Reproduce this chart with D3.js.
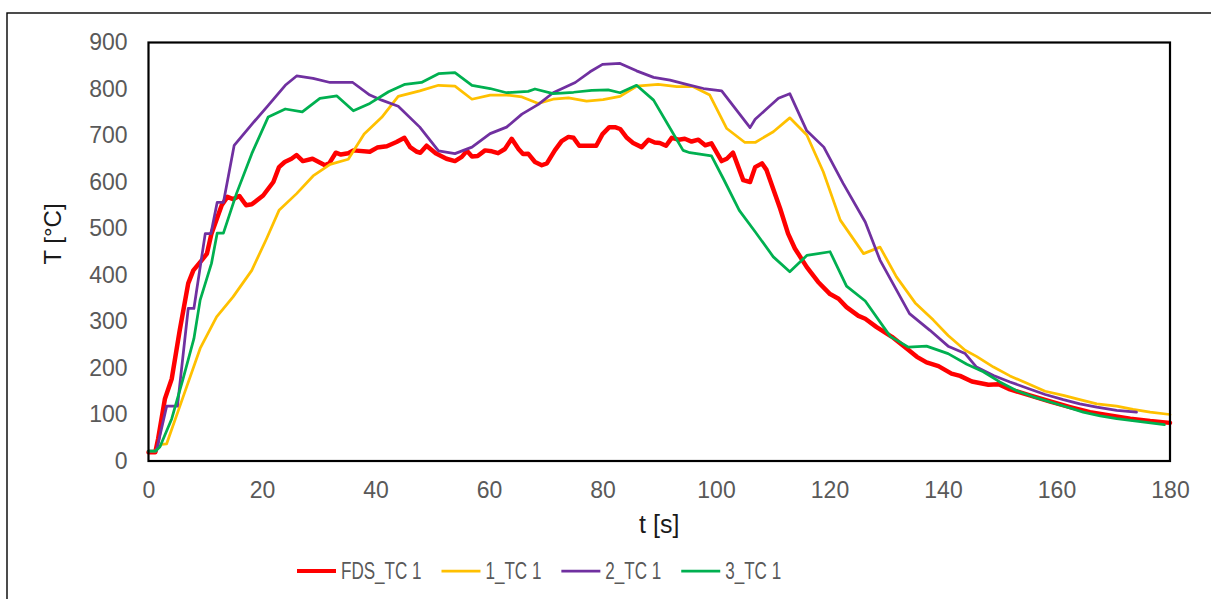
<!DOCTYPE html>
<html>
<head>
<meta charset="utf-8">
<script src="https://cdn.jsdelivr.net/npm/d3@7"></script>
<style>
  html, body { margin: 0; padding: 0; background: #fff; overflow: hidden; }
  svg { display: block; font-family: "Liberation Sans", Arial, sans-serif; }
</style>
</head>
<body>
<script>
// thermocouple TC 1: FDS model vs. three test runs
const fdsTime = [0, 1.2, 1.7, 2.9, 4.1, 5.5, 7.0, 7.9, 9.4, 10.3, 11.1, 12.9, 13.9, 14.9, 16.0, 17.2, 18.2, 20.2, 22.0, 23.0, 24.0, 25.2, 26.1, 27.2, 28.9, 31.1, 31.9, 33.0, 33.9, 35.2, 36.1, 39.0, 40.3, 42.0, 43.7, 45.1, 46.1, 47.3, 47.9, 49.0, 50.6, 52.5, 54.0, 55.2, 56.1, 57.0, 58.0, 59.3, 60.5, 61.6, 62.8, 64.0, 65.2, 66.0, 66.9, 68.1, 69.3, 70.2, 71.6, 72.8, 74.0, 74.9, 75.9, 77.2, 78.9, 80.0, 81.2, 82.2, 83.1, 84.3, 85.4, 86.9, 88.1, 89.2, 90.1, 91.2, 92.2, 93.4, 94.5, 95.7, 96.9, 98.1, 99.2, 101.0, 101.9, 103.0, 104.8, 106.0, 106.9, 108.1, 108.9, 111.3, 112.7, 113.9, 116.0, 118.0, 120.1, 121.6, 123.0, 125.1, 126.3, 128.3, 131.0, 133.6, 135.4, 137.1, 139.2, 141.5, 143.0, 145.1, 148.0, 149.8, 151.8, 155.3, 158.9, 162.4, 165.9, 169.4, 173.0, 176.5, 180];
const fdsTemp = [19, 19, 48, 134, 177, 281, 382, 410, 432, 446, 489, 550, 568, 563, 570, 550, 552, 571, 600, 632, 643, 650, 658, 645, 650, 636, 641, 663, 659, 662, 668, 665, 674, 677, 686, 695, 675, 665, 663, 678, 662, 650, 645, 654, 667, 655, 656, 668, 666, 662, 671, 693, 671, 660, 661, 643, 636, 640, 668, 688, 697, 695, 678, 678, 678, 703, 718, 718, 714, 695, 684, 675, 691, 685, 684, 678, 695, 691, 693, 687, 691, 679, 683, 645, 650, 663, 604, 600, 632, 640, 626, 543, 489, 457, 417, 385, 359, 349, 331, 312, 306, 288, 267, 242, 224, 212, 204, 188, 183, 171, 164, 165, 154, 141, 128, 116, 105, 98, 91, 86, 82];

const run1Time = [0, 1.2, 2.3, 3.2, 6.1, 9.1, 12.0, 14.9, 18.2, 20.8, 23.0, 26.1, 29.0, 32.0, 35.2, 38.0, 41.1, 44.0, 47.8, 51.1, 54.0, 57.0, 60.2, 63.1, 65.8, 68.7, 71.3, 74.0, 77.2, 80.1, 83.1, 86.0, 89.8, 93.1, 96.0, 98.9, 101.9, 105.1, 106.9, 110.1, 113.0, 116.0, 118.9, 121.9, 126.0, 128.9, 131.8, 135.1, 138.3, 140.9, 143.9, 145.9, 148.9, 151.8, 155.0, 158.0, 161.2, 164.1, 167.1, 170.6, 173.5, 176.5, 180];
const run1Temp = [21, 21, 36, 37, 138, 242, 310, 353, 410, 478, 539, 575, 613, 638, 649, 703, 739, 784, 796, 808, 806, 778, 787, 787, 783, 769, 778, 781, 774, 777, 784, 806, 810, 805, 805, 787, 715, 685, 685, 708, 738, 701, 622, 518, 446, 460, 396, 340, 303, 270, 238, 225, 202, 183, 166, 150, 141, 132, 123, 118, 111, 105, 100];

const run2Time = [0, 1.4, 3.2, 5.1, 7.0, 8.0, 10.0, 11.0, 12.1, 13.2, 15.1, 18.2, 21.1, 24.1, 26.1, 29.0, 32.0, 36.0, 39.0, 41.1, 44.0, 47.8, 51.1, 54.0, 57.0, 60.2, 63.1, 65.8, 68.7, 71.3, 75.2, 77.8, 80.0, 83.1, 86.0, 89.0, 91.9, 94.8, 97.8, 101.0, 106.0, 106.9, 108.9, 111.0, 113.0, 116.0, 119.0, 122.4, 126.3, 128.9, 134.1, 137.7, 140.9, 143.9, 145.9, 148.9, 151.8, 155.0, 158.0, 161.2, 164.1, 167.1, 170.6, 174.1];
const run2Temp = [21, 22, 118, 118, 328, 328, 489, 489, 556, 556, 679, 724, 765, 808, 828, 823, 814, 814, 787, 776, 763, 718, 667, 661, 675, 704, 718, 746, 767, 792, 814, 837, 853, 855, 839, 825, 819, 810, 801, 796, 717, 735, 757, 780, 790, 710, 675, 597, 514, 432, 317, 281, 247, 231, 202, 184, 170, 156, 143, 132, 123, 116, 109, 105];

const run3Time = [0, 1.2, 2.0, 4.1, 6.1, 8.0, 9.1, 11.1, 12.1, 13.2, 15.5, 18.2, 21.1, 24.1, 27.1, 30.2, 33.2, 36.1, 39.0, 42.3, 45.2, 48.1, 51.1, 54.0, 57.0, 60.2, 63.1, 66.9, 68.1, 71.3, 74.9, 78.1, 81.0, 83.1, 86.0, 89.0, 91.6, 94.2, 95.4, 99.2, 101.3, 104.1, 106.9, 110.1, 113.0, 116.0, 120.1, 123.0, 126.3, 130.7, 133.9, 137.1, 140.9, 144.2, 147.1, 150.0, 153.0, 155.9, 158.9, 161.8, 164.7, 167.7, 170.6, 174.1, 179.0];
const run3Temp = [21, 21, 30, 91, 177, 263, 346, 425, 490, 490, 575, 661, 740, 757, 751, 780, 785, 753, 769, 794, 810, 814, 833, 835, 808, 801, 792, 795, 800, 790, 793, 797, 798, 792, 808, 776, 722, 668, 663, 656, 607, 539, 493, 439, 407, 442, 450, 376, 344, 268, 245, 247, 231, 208, 192, 170, 151, 138, 127, 116, 105, 97, 91, 86, 78];

const seriesNames = ["FDS_TC 1", "1_TC 1", "2_TC 1", "3_TC 1"];
const seriesColors = ["#ff0000", "#ffc000", "#7030a0", "#00b050"];
const xTicks = [0, 20, 40, 60, 80, 100, 120, 140, 160, 180];
const yTicks = [0, 100, 200, 300, 400, 500, 600, 700, 800, 900];

const W = 1211, H = 599;
const plot = { left: 148.5, right: 1170, top: 42.5, bottom: 461 };

const series = [
  [fdsTime, fdsTemp], [run1Time, run1Temp], [run2Time, run2Temp], [run3Time, run3Temp]
].map(([t, v], i) => ({
  name: seriesNames[i],
  color: seriesColors[i],
  width: i === 0 ? 4.5 : 2.75,
  points: t.map((d, j) => [d, v[j]])
}));

const svg = d3.select("body").append("svg")
  .attr("width", W)
  .attr("height", H);

svg.append("rect").attr("width", W).attr("height", H).attr("fill", "#fff");

// chart area border (runs off the right and bottom)
svg.append("rect")
  .attr("x", 7).attr("y", 13)
  .attr("width", W + 50).attr("height", H + 50)
  .attr("fill", "none")
  .attr("stroke", "#000")
  .attr("stroke-width", 1.4);

const x = d3.scaleLinear().domain([0, 180]).range([plot.left, plot.right]);
const y = d3.scaleLinear().domain([0, 900]).range([plot.bottom, plot.top]);

// tick labels only, no tick marks
const xAxis = svg.append("g")
  .attr("transform", `translate(0,${plot.bottom})`)
  .call(d3.axisBottom(x).tickValues(xTicks).tickSize(0).tickPadding(21));
const yAxis = svg.append("g")
  .attr("transform", `translate(${plot.left},0)`)
  .call(d3.axisLeft(y).tickValues(yTicks).tickSize(0).tickPadding(21));

[xAxis, yAxis].forEach(g => {
  g.select(".domain").remove();
  g.selectAll("text")
    .attr("fill", "#595959")
    .style("font-size", "23px")
    .style("font-family", "'Liberation Sans', Arial, sans-serif");
});
xAxis.selectAll("text").attr("dy", "0.71em").attr("y", 21);

const line = d3.line()
  .x(d => x(d[0]))
  .y(d => y(d[1]));

svg.append("g")
  .selectAll("path")
  .data(series)
  .join("path")
  .attr("d", d => line(d.points))
  .attr("fill", "none")
  .attr("stroke", d => d.color)
  .attr("stroke-width", d => d.width)
  .attr("stroke-linejoin", "round")
  .attr("stroke-linecap", "round");

// plot area frame on top
svg.append("rect")
  .attr("x", plot.left).attr("y", plot.top)
  .attr("width", plot.right - plot.left)
  .attr("height", plot.bottom - plot.top)
  .attr("fill", "none")
  .attr("stroke", "#000")
  .attr("stroke-width", 2.2);

// axis titles
svg.append("text")
  .attr("x", (plot.left + plot.right) / 2)
  .attr("y", 533)
  .attr("text-anchor", "middle")
  .attr("fill", "#1a1a1a")
  .style("font-size", "25px")
  .text("t [s]");

svg.append("text")
  .attr("transform", "translate(61,234) rotate(-90)")
  .attr("text-anchor", "middle")
  .attr("fill", "#1a1a1a")
  .style("font-size", "24px")
  .text("T [°C]");

// legend, narrow lettering
const legend = svg.append("g").attr("transform", "translate(297,571)");
let cursor = 0;
series.forEach(s => {
  const item = legend.append("g").attr("transform", `translate(${cursor},0)`);
  item.append("line")
    .attr("x1", 0).attr("x2", 39)
    .attr("stroke", s.color)
    .attr("stroke-width", s.width === 2.75 ? 2.75 : 4);
  const txt = item.append("text")
    .attr("x", 44)
    .attr("dy", "0.35em")
    .attr("fill", "#595959")
    .style("font-size", "24px")
    .text(s.name);
  const natural = txt.node().getComputedTextLength();
  const squeezed = natural * 0.71;
  txt.attr("textLength", squeezed).attr("lengthAdjust", "spacingAndGlyphs");
  cursor += 44 + squeezed + 20;
});
</script>
</body>
</html>
